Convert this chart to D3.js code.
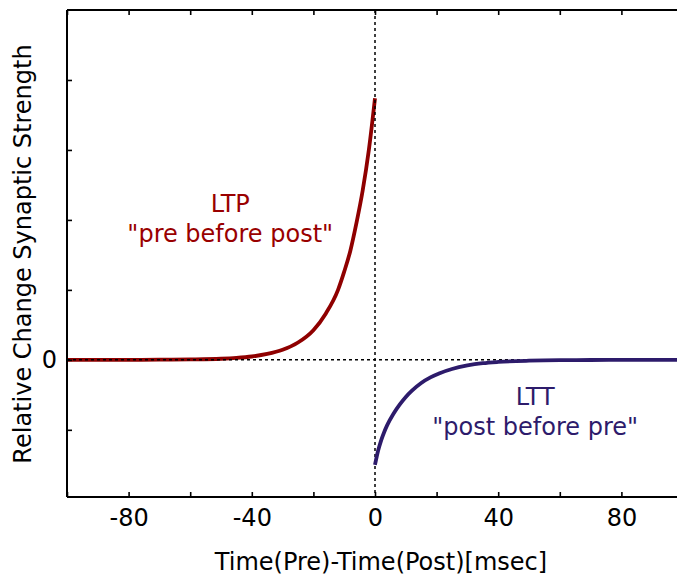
<!DOCTYPE html>
<html>
<head>
<meta charset="utf-8">
<script src="https://cdn.jsdelivr.net/npm/d3@7/dist/d3.min.js"></script>
<style>
  html, body { margin: 0; padding: 0; background: #ffffff; }
  svg { display: block; }
  text { font-family: "DejaVu Sans", sans-serif; }
</style>
</head>
<body>
<svg id="chart" width="677" height="576"></svg>
<script>
// ---- data ----
const ltpTime  = [-100, -90, -80, -70, -60, -50, -45, -40, -35, -30, -25, -20, -16, -12, -10, -8, -6, -4, -2, 0];
const ltpValue = [0.000, 0.000, 0.000, 0.001, 0.003, 0.008, 0.014, 0.024, 0.042, 0.072, 0.124, 0.212, 0.33, 0.50, 0.63, 0.78, 0.98, 1.21, 1.50, 1.87];

const ltdTime  = [0, 1, 2, 3, 4, 6, 8, 10, 12, 15, 18, 21, 25, 30, 35, 40, 50, 60, 70, 80, 90, 100];
const ltdValue = [-0.75, -0.65, -0.575, -0.515, -0.465, -0.385, -0.32, -0.265, -0.22, -0.165, -0.125, -0.095, -0.065, -0.040, -0.024, -0.015, -0.006, -0.002, -0.001, 0, 0, 0];

const xTickValues = [-100, -80, -60, -40, -20, 0, 20, 40, 60, 80, 100];
const xTickLabels = ["", "-80", "", "-40", "", "0", "", "40", "", "80", ""];
const yTickValues = [-0.5, 0, 0.5, 1.0, 1.5, 2.0];
const yTickLabels = ["", "0", "", "", "", ""];

const annotations = [
  { lines: ["LTP", "\"pre before post\""], x: -47, y: 1.06, color: "#990000" },
  { lines: ["LTT", "\"post before pre\""], x: 52, y: -0.32, color: "#2d1b6b" }
];

const xLabel = "Time(Pre)-Time(Post)[msec]";
const yLabel = "Relative Change Synaptic Strength";

// ---- layout ----
const W = 677, H = 576;
const mLeft = 67, mTop = 10, mBottom = 497, mRight = 683;
const svg = d3.select("#chart");

const x = d3.scaleLinear().domain([-100, 100]).range([mLeft, mRight]);
const y = d3.scaleLinear().domain([-0.98, 2.5]).range([mBottom, mTop]);

const FS = 24;

// ---- curves ----
const line = d3.line().x(d => x(d[0])).y(d => y(d[1])).curve(d3.curveMonotoneX);
const ltp = ltpTime.map((t, i) => [t, ltpValue[i]]);
const ltd = ltdTime.map((t, i) => [t, ltdValue[i]]);

svg.append("path").datum(ltp).attr("d", line)
  .attr("fill", "none").attr("stroke", "#8f0000").attr("stroke-width", 3.8)
  .attr("stroke-linejoin", "round");

// zero reference lines
svg.append("line")
  .attr("x1", mLeft).attr("x2", W).attr("y1", y(0)).attr("y2", y(0))
  .attr("stroke", "#000").attr("stroke-width", 1.5).attr("stroke-dasharray", "3,3");
svg.append("line")
  .attr("x1", x(0)).attr("x2", x(0)).attr("y1", mTop).attr("y2", mBottom)
  .attr("stroke", "#000").attr("stroke-width", 1.5).attr("stroke-dasharray", "3,3");

svg.append("path").datum(ltd).attr("d", line)
  .attr("fill", "none").attr("stroke", "#2d1b6b").attr("stroke-width", 3.8)
  .attr("stroke-linejoin", "round");

// ---- axes (inward ticks, mirrored on top) ----
const xAxisB = d3.axisBottom(x).tickValues(xTickValues)
  .tickSize(-5).tickPadding(12).tickFormat((d, i) => xTickLabels[i]);
const gxb = svg.append("g").attr("transform", `translate(0,${mBottom})`).call(xAxisB);

const xAxisT = d3.axisTop(x).tickValues(xTickValues)
  .tickSize(-5).tickFormat(() => "");
const gxt = svg.append("g").attr("transform", `translate(0,${mTop})`).call(xAxisT);

const yAxisL = d3.axisLeft(y).tickValues(yTickValues)
  .tickSize(-5).tickPadding(10).tickFormat((d, i) => yTickLabels[i]);
const gyl = svg.append("g").attr("transform", `translate(${mLeft},0)`).call(yAxisL);

[gxb, gxt, gyl].forEach(g => {
  g.select(".domain").attr("stroke", "#000").attr("stroke-width", 2);
  g.selectAll(".tick line").attr("stroke", "#000").attr("stroke-width", 1.6);
  g.selectAll(".tick text").attr("fill", "#000").style("font-size", FS + "px")
    .style("font-family", "'DejaVu Sans', sans-serif");
});
gxb.select(".domain").attr("d", `M${mLeft},0H${mRight}`);
gxt.select(".domain").attr("d", `M${mLeft},0H${mRight}`);
gyl.select(".domain").attr("d", `M0,${mTop}V${mBottom}`);

// ---- axis labels ----
svg.append("text").attr("x", 381).attr("y", 570)
  .attr("text-anchor", "middle").style("font-size", FS + "px").attr("fill", "#000")
  .text(xLabel);

svg.append("text").attr("transform", `translate(31,254) rotate(-90)`)
  .attr("text-anchor", "middle").style("font-size", FS + "px").attr("fill", "#000")
  .text(yLabel);

// ---- annotations ----
annotations.forEach(a => {
  const t = svg.append("text").attr("text-anchor", "middle")
    .style("font-size", FS + "px").attr("fill", a.color);
  a.lines.forEach((s, i) => {
    t.append("tspan").attr("x", x(a.x)).attr("y", y(a.y) + i * 30).text(s);
  });
});
</script>
</body>
</html>
